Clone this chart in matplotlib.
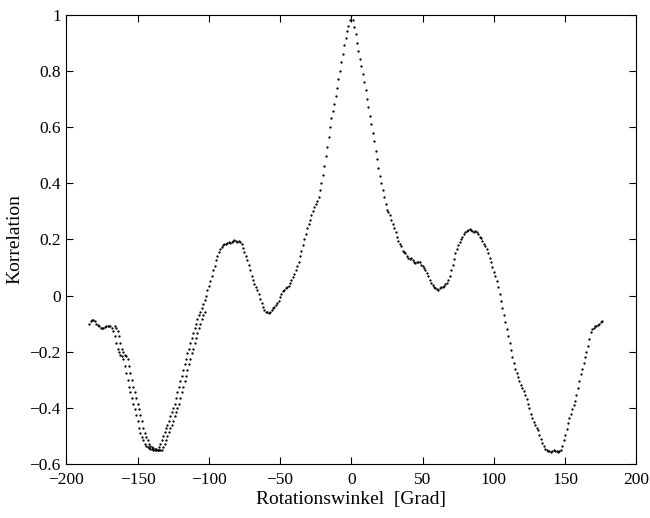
# Korrelation ueber Rotationswinkel

import numpy as np
import matplotlib.pyplot as plt

# Messreihe 1 (Winkel in 1-Grad-Schritten von -184 bis 176)
winkel_a = np.arange(-184, 177)
korr_a = [
    -0.100, -0.092, -0.088, -0.087, -0.092, -0.100, -0.105, -0.110, -0.115, -0.117,
    -0.115, -0.112, -0.110, -0.108, -0.109, -0.110, -0.115, -0.125, -0.145, -0.170,
    -0.190, -0.200, -0.210, -0.215, -0.225, -0.250, -0.275, -0.300, -0.325, -0.345,
    -0.365, -0.385, -0.405, -0.425, -0.445, -0.470, -0.490, -0.505, -0.515, -0.527,
    -0.535, -0.540, -0.543, -0.545, -0.546, -0.548, -0.550, -0.550, -0.548, -0.540,
    -0.530, -0.515, -0.500, -0.485, -0.470, -0.460, -0.445, -0.430, -0.415, -0.400,
    -0.385, -0.365, -0.345, -0.325, -0.305, -0.285, -0.265, -0.245, -0.225, -0.205,
    -0.190, -0.170, -0.150, -0.135, -0.115, -0.100, -0.085, -0.070, -0.060, -0.045,
    -0.030, -0.015, 0.000, 0.020, 0.035, 0.050, 0.070, 0.090, 0.105, 0.125,
    0.140, 0.155, 0.165, 0.172, 0.178, 0.182, 0.185, 0.188, 0.190, 0.188,
    0.192, 0.195, 0.197, 0.194, 0.190, 0.195, 0.192, 0.185, 0.170, 0.155,
    0.140, 0.125, 0.108, 0.090, 0.070, 0.055, 0.042, 0.030, 0.018, 0.005,
    -0.012, -0.028, -0.040, -0.050, -0.057, -0.060, -0.062, -0.058, -0.050, -0.045,
    -0.040, -0.033, -0.028, -0.018, -0.005, 0.005, 0.015, 0.020, 0.028, 0.030,
    0.035, 0.045, 0.055, 0.065, 0.075, 0.090, 0.105, 0.120, 0.140, 0.160,
    0.180, 0.200, 0.220, 0.240, 0.255, 0.270, 0.285, 0.300, 0.315, 0.325,
    0.335, 0.350, 0.375, 0.400, 0.430, 0.460, 0.495, 0.530, 0.565, 0.600,
    0.630, 0.655, 0.680, 0.710, 0.740, 0.770, 0.800, 0.830, 0.860, 0.890,
    0.915, 0.940, 0.960, 0.980, 1.000, 0.980, 0.955, 0.930, 0.900, 0.870,
    0.840, 0.815, 0.790, 0.760, 0.730, 0.700, 0.670, 0.640, 0.610, 0.580,
    0.550, 0.515, 0.485, 0.455, 0.425, 0.400, 0.375, 0.350, 0.325, 0.305,
    0.298, 0.285, 0.270, 0.255, 0.240, 0.225, 0.210, 0.195, 0.185, 0.175,
    0.160, 0.155, 0.150, 0.140, 0.135, 0.130, 0.132, 0.125, 0.120, 0.115,
    0.118, 0.120, 0.118, 0.110, 0.105, 0.098, 0.090, 0.080, 0.068, 0.055,
    0.045, 0.038, 0.032, 0.028, 0.022, 0.020, 0.025, 0.030, 0.030, 0.035,
    0.040, 0.045, 0.055, 0.070, 0.090, 0.110, 0.130, 0.150, 0.165, 0.180,
    0.190, 0.200, 0.210, 0.218, 0.225, 0.230, 0.232, 0.235, 0.232, 0.228,
    0.225, 0.228, 0.225, 0.218, 0.210, 0.205, 0.195, 0.185, 0.175, 0.165,
    0.150, 0.135, 0.120, 0.100, 0.085, 0.070, 0.050, 0.030, 0.005, -0.020,
    -0.045, -0.070, -0.095, -0.120, -0.145, -0.170, -0.195, -0.220, -0.240, -0.260,
    -0.275, -0.290, -0.305, -0.320, -0.330, -0.340, -0.355, -0.370, -0.385, -0.400,
    -0.420, -0.435, -0.450, -0.460, -0.470, -0.480, -0.495, -0.510, -0.525, -0.535,
    -0.545, -0.550, -0.552, -0.555, -0.556, -0.553, -0.548, -0.552, -0.555, -0.556,
    -0.555, -0.548, -0.535, -0.515, -0.495, -0.475, -0.455, -0.435, -0.420, -0.405,
    -0.390, -0.375, -0.355, -0.330, -0.305, -0.280, -0.260, -0.240, -0.220, -0.200,
    -0.180, -0.155, -0.130, -0.120, -0.115, -0.110, -0.108, -0.105, -0.100, -0.095,
    -0.092,
]

# Messreihe 2 (nur im linken Bereich, -166 bis -103)
winkel_b = np.arange(-166, -102)
korr_b = [
    -0.110, -0.115, -0.125, -0.145, -0.170, -0.190, -0.200, -0.210, -0.215, -0.225,
    -0.250, -0.275, -0.300, -0.325, -0.345, -0.365, -0.385, -0.405, -0.425, -0.445,
    -0.470, -0.490, -0.505, -0.515, -0.527, -0.535, -0.540, -0.543, -0.545, -0.546,
    -0.548, -0.550, -0.550, -0.548, -0.540, -0.530, -0.515, -0.500, -0.485, -0.470,
    -0.460, -0.445, -0.430, -0.415, -0.400, -0.385, -0.365, -0.345, -0.325, -0.305,
    -0.285, -0.265, -0.245, -0.225, -0.205, -0.190, -0.170, -0.150, -0.135, -0.115,
    -0.100, -0.085, -0.070, -0.060,
]

x_ticks = [-200, -150, -100, -50, 0, 50, 100, 150, 200]
y_ticks = [-0.6, -0.4, -0.2, 0, 0.2, 0.4, 0.6, 0.8, 1]
y_tick_labels = ['\u22120.6', '\u22120.4', '\u22120.2', '0', '0.2', '0.4', '0.6', '0.8', '1']

plt.rcParams['font.family'] = ['Liberation Serif', 'DejaVu Serif']

fig = plt.figure(figsize=(6.5, 5.18), dpi=100)
ax = fig.add_axes([0.102, 0.104, 0.877, 0.868])

ax.plot(winkel_a, korr_a, '.', color='k', markersize=3.3, markeredgewidth=0)
ax.plot(winkel_b, korr_b, '.', color='k', markersize=3.3, markeredgewidth=0)

ax.set_xlim(-200, 200)
ax.set_ylim(-0.6, 1)
ax.set_xticks(x_ticks)
ax.set_yticks(y_ticks)
ax.set_yticklabels(y_tick_labels)
ax.tick_params(direction='in', top=True, right=True, length=5, width=0.8,
               labelsize=12.5, pad=4)
ax.tick_params(axis='x', pad=6)
for s in ax.spines.values():
    s.set_linewidth(0.8)

ax.set_xlabel('Rotationswinkel  [Grad]', fontsize=14, labelpad=2)
ax.set_ylabel('Korrelation', fontsize=14, labelpad=4)

fig.savefig('out.png', dpi=100)
